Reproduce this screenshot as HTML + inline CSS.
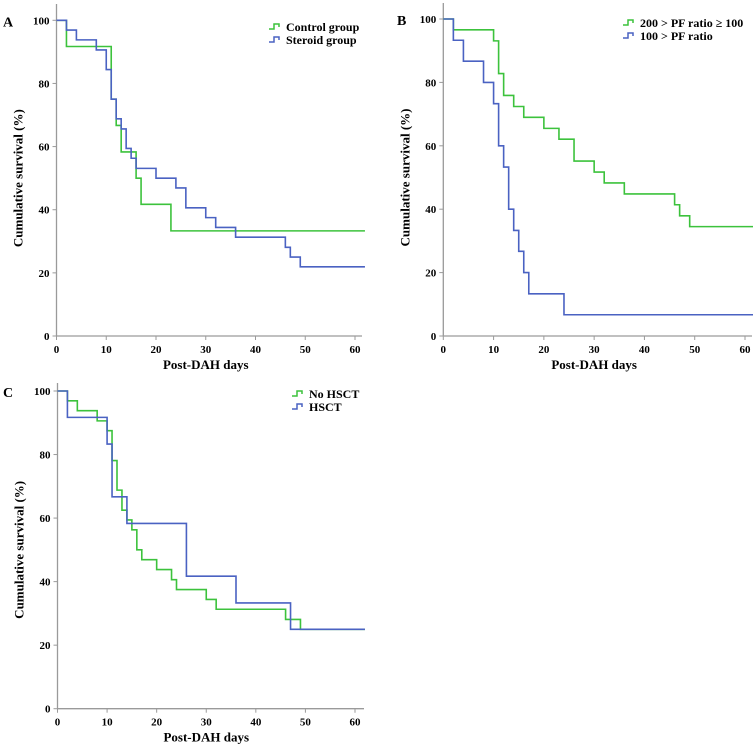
<!DOCTYPE html>
<html><head><meta charset="utf-8"><style>
html,body{margin:0;padding:0;background:#fff;width:753px;height:749px;overflow:hidden}
svg{display:block}
text{font-family:"Liberation Serif","Times New Roman","DejaVu Serif",serif;font-weight:bold}
</style></head><body>
<svg id="s" width="753" height="749" viewBox="0 0 753 749"></svg>
<script>
// Panel A
const aTicksX=[0,10,20,30,40,50,60];
const aTicksY=[0,20,40,60,80,100];
const aControlT=[0,2,11,12,13,16,17,23,62];
const aControlS=[100,91.7,75,66.7,58.3,50,41.7,33.3,33.3];
const aSteroidT=[0,2,4,8,10,11,12,13,14,15,16,20,24,26,30,32,36,46,47,49,62];
const aSteroidS=[100,96.9,93.8,90.6,84.4,75,68.8,65.6,59.4,56.3,53.1,50,46.9,40.6,37.5,34.4,31.3,28.1,25,21.9,21.9];
// Panel B
const bModT=[0,2,10,11,12,14,16,20,23,26,30,32,36,46,47,49,62];
const bModS=[100,96.6,93.1,82.8,75.9,72.4,69,65.5,62.1,55.2,51.7,48.3,44.8,41.4,37.9,34.5,34.5];
const bSevT=[0,2,4,8,10,11,12,13,14,15,16,17,24,62];
const bSevS=[100,93.3,86.7,80,73.3,60,53.3,40,33.3,26.7,20,13.3,6.7,6.7];
// Panel C
const cNoT=[0,2,4,8,10,11,12,13,14,15,16,17,20,23,24,30,32,46,49,62];
const cNoS=[100,96.9,93.8,90.6,87.5,78.1,68.8,62.5,59.4,56.3,50,46.9,43.8,40.6,37.5,34.4,31.3,28.1,25,25];
const cHsT=[0,2,10,11,14,26,36,47,62];
const cHsS=[100,91.7,83.3,66.7,58.3,41.7,33.3,25,25];

const NS="http://www.w3.org/2000/svg";
const svg=document.getElementById('s');
const FF='"Liberation Serif", "Times New Roman", serif';
function mk(tag,attrs,parent){const e=document.createElementNS(NS,tag);for(const k in attrs)e.setAttribute(k,attrs[k]);if(tag==='text'){e.setAttribute('font-family',FF);e.setAttribute('font-weight','bold');}(parent||svg).appendChild(e);return e;}
const GREEN="#3cc23c",BLUE="#4a62c2";

function panel(p){
  const g=mk('g',{});
  
  
  const X=v=>p.x0+(v/60)*(p.x60-p.x0);
  const Y=v=>p.y0-(v/100)*(p.y0-p.y100);
  const ax=mk('path',{d:`M${p.x0},${p.yTop}V${p.y0}H${p.xEnd}`,stroke:'#9a9a9a','stroke-width':1.3,fill:'none'},g);
  
  
  aTicksY.forEach(v=>{
    mk('line',{x1:p.x0-4,x2:p.x0,y1:Y(v),y2:Y(v),stroke:'#9a9a9a','stroke-width':1},g);
    const t=mk('text',{x:p.x0-7,y:Y(v)+4,'text-anchor':'end','font-size':11},g);
    t.textContent=v;
    
    
  });
  aTicksX.forEach(v=>{
    mk('line',{x1:X(v),x2:X(v),y1:p.y0,y2:p.y0+4,stroke:'#9a9a9a','stroke-width':1},g);
    const t=mk('text',{x:X(v),y:p.y0+17,'text-anchor':'middle','font-size':11},g);
    t.textContent=v;
    
    
  });
  const xt=mk('text',{x:(p.x0+p.x60)/2,y:p.y0+33,'text-anchor':'middle','font-size':13},g);
  xt.textContent='Post-DAH days';
  
  
  const cy=(p.y0+p.y100)/2;
  const yt=mk('text',{x:0,y:0,'text-anchor':'middle','font-size':13,transform:`translate(${p.x0-34},${cy}) rotate(-90)`},g);
  yt.textContent='Cumulative survival (%)';
  
  
  const lb=mk('text',{x:p.lx,y:p.y100+6,'font-size':14},g);
  lb.textContent=p.id;
  
  
  p.series.forEach((s,i)=>{
    let d=`M${X(s.t[0])},${Y(s.s[0])}`;
    for(let k=1;k<s.t.length;k++){d+=`H${X(s.t[k])}V${Y(s.s[k])}`;}
    const pth=mk('path',{d,stroke:s.c,'stroke-width':1.6,fill:'none'},g);
    
    
    const ly=p.legY+i*13;
    const ic=mk('path',{d:`M${p.legX},${ly+2}H${p.legX+5}V${ly-3}H${p.legX+10}V${ly}`,stroke:s.c,'stroke-width':1.5,fill:'none'},g);
    
    
    const lt=mk('text',{x:p.legX+17,y:ly+4,'font-size':12},g);
    lt.textContent=s.name;
    
    
  });
}
panel({id:'A',x0:56.5,x60:355,xEnd:362,y0:336,y100:20.3,yTop:4,lx:3,legX:269,legY:27,
  series:[{key:'control',name:'Control group',t:aControlT,s:aControlS,c:GREEN},{key:'steroid',name:'Steroid group',t:aSteroidT,s:aSteroidS,c:BLUE}]});
panel({id:'B',x0:443.3,x60:745,xEnd:752,y0:336,y100:19,yTop:3,lx:397,legX:623,legY:23,
  series:[{key:'moderate',name:'200 > PF ratio ≥ 100',t:bModT,s:bModS,c:GREEN},{key:'severe',name:'100 > PF ratio',t:bSevT,s:bSevS,c:BLUE}]});
panel({id:'C',x0:57.5,x60:355,xEnd:364,y0:708.7,y100:391,yTop:383,lx:3,legX:292,legY:394,
  series:[{key:'no-hsct',name:'No HSCT',t:cNoT,s:cNoS,c:GREEN},{key:'hsct',name:'HSCT',t:cHsT,s:cHsS,c:BLUE}]});
</script>
</body></html>
